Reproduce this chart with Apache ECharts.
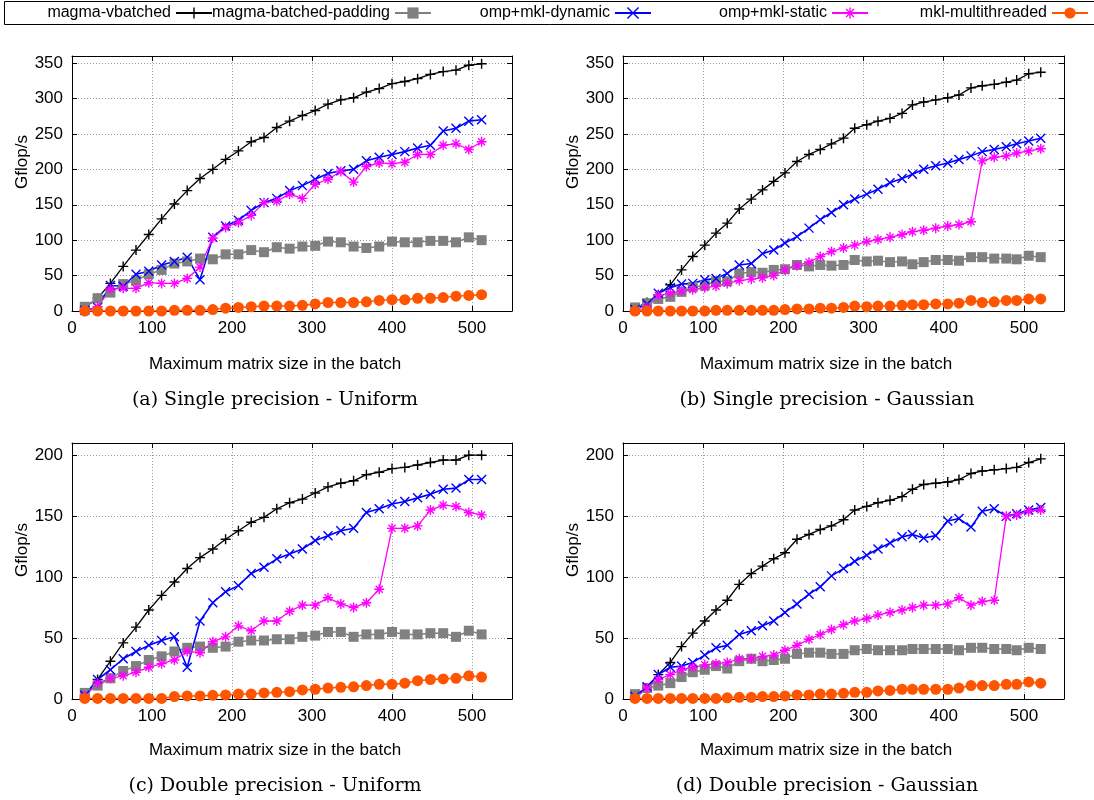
<!DOCTYPE html>
<html>
<head>
<meta charset="utf-8">
<title>Batched LU performance</title>
<script src="https://cdn.jsdelivr.net/npm/echarts@6.0.0/dist/echarts.min.js"></script>
<style>
  html, body { margin: 0; padding: 0; background: #fff; }
  #chart { width: 1094px; height: 800px; }
</style>
</head>
<body>
<div id="chart"></div>
<script>
// series names, in the order gnuplot drew them
const seriesNames = ['magma-vbatched', 'magma-batched-padding', 'omp+mkl-dynamic', 'omp+mkl-static', 'mkl-multithreaded'];

const captions = [
  '(a) Single precision - Uniform',
  '(b) Single precision - Gaussian',
  '(c) Double precision - Uniform',
  '(d) Double precision - Gaussian'
];

// maximum matrix sizes (x values)
const sizesUniform = [16, 32, 48, 64, 80, 96, 112, 128, 144, 160, 176, 192, 208, 224, 240, 256,
  272, 288, 304, 320, 336, 352, 368, 384, 400, 416, 432, 448, 464, 480, 496, 512];
const sizesGaussian = [15, 30, 44, 59, 73, 87, 102, 116, 130, 145, 160, 174, 188, 202, 217, 232, 246, 260,
  275, 289, 304, 318, 333, 348, 361, 375, 390, 405, 419, 434, 448, 463, 478, 491, 506, 521];

// (a) single precision, uniform
const vbatchedSU = [5, 18, 39, 63, 86, 108, 130, 151, 170, 187, 200, 214, 226, 239, 245, 259, 268, 276, 283, 292, 298, 301, 309, 314, 321, 324, 328, 334, 338, 340, 347, 349];
const paddingSU = [6, 18, 26, 38, 43, 52, 58, 67, 70, 74, 73, 80, 80, 86, 83, 90, 88, 91, 92, 98, 97, 91, 89, 91, 98, 97, 97, 99, 99, 97, 104, 100];
const dynamicSU = [1, 5, 36, 35, 52, 56, 65, 70, 76, 44, 104, 120, 128, 142, 153, 159, 170, 177, 186, 194, 198, 200, 212, 217, 221, 225, 230, 234, 254, 258, 268, 270];
const staticSU = [0, 6, 31, 32, 32, 40, 39, 39, 46, 62, 103, 118, 125, 135, 153, 155, 165, 159, 179, 186, 197, 182, 204, 209, 208, 210, 221, 221, 234, 236, 228, 239];
const mklSU = [0, 0, 0, 0, 0, 0, 0, 1, 1, 1, 2, 4, 5, 6, 7, 7, 7, 8, 10, 12, 12, 12, 13, 15, 16, 16, 18, 18, 19, 21, 22, 23];

// (b) single precision, gaussian
const vbatchedSG = [4, 12, 23, 37, 58, 77, 93, 110, 124, 144, 158, 171, 183, 195, 211, 221, 228, 236, 244, 258, 263, 268, 272, 279, 291, 295, 298, 301, 305, 315, 318, 320, 323, 326, 335, 337];
const paddingSG = [5, 11, 17, 20, 27, 34, 36, 42, 42, 53, 55, 54, 58, 59, 65, 63, 65, 64, 65, 72, 70, 71, 69, 70, 66, 69, 72, 72, 71, 76, 76, 74, 74, 73, 78, 76];
const dynamicSG = [2, 10, 25, 33, 38, 39, 44, 46, 53, 65, 67, 81, 86, 96, 105, 117, 129, 139, 150, 158, 165, 172, 181, 187, 193, 200, 205, 209, 214, 219, 225, 228, 232, 236, 240, 244];
const staticSG = [0, 5, 22, 25, 28, 30, 33, 35, 39, 43, 45, 47, 50, 58, 64, 69, 77, 84, 89, 93, 98, 101, 104, 108, 112, 114, 117, 120, 122, 126, 212, 217, 219, 223, 226, 229];
const mklSG = [0, 0, 0, 0, 0, 0, 0, 1, 1, 1, 1, 1, 1, 2, 3, 3, 4, 4, 5, 7, 6, 7, 7, 8, 9, 9, 10, 10, 11, 15, 12, 13, 15, 15, 17, 17];

// (c) double precision, uniform
const vbatchedDU = [3, 16, 31, 46, 59, 73, 85, 96, 107, 116, 123, 131, 138, 145, 149, 156, 161, 164, 169, 174, 177, 179, 184, 186, 189, 190, 192, 194, 196, 196, 200, 200];
const paddingDU = [5, 11, 17, 23, 27, 32, 35, 39, 42, 43, 42, 43, 47, 48, 48, 49, 49, 51, 52, 55, 55, 51, 53, 53, 55, 53, 53, 54, 54, 51, 56, 53];
const dynamicDU = [3, 16, 24, 33, 39, 44, 48, 51, 26, 64, 79, 88, 93, 103, 108, 115, 119, 123, 130, 134, 138, 140, 153, 156, 160, 162, 165, 168, 172, 173, 180, 180];
const staticDU = [2, 13, 17, 19, 22, 26, 29, 32, 39, 38, 47, 51, 60, 56, 64, 64, 72, 77, 77, 83, 78, 75, 79, 90, 140, 140, 142, 155, 159, 158, 153, 151];
const mklDU = [0.5, 0.5, 0.5, 0.5, 0.5, 0.5, 0.5, 2, 2.5, 2.5, 3, 3.3, 4, 4, 5, 5.5, 6, 7.4, 8, 9, 9.6, 10, 11, 12, 12, 13, 15, 16, 16.5, 17, 19, 18];

// (d) double precision, gaussian
const vbatchedDG = [3, 9, 20, 30, 43, 54, 64, 73, 81, 94, 103, 109, 115, 120, 131, 135, 139, 142, 147, 155, 158, 161, 163, 166, 172, 176, 177, 178, 180, 185, 187, 188, 189, 190, 194, 197];
const paddingDG = [4, 9, 11, 13, 18, 22, 24, 27, 25, 31, 33, 31, 32, 33, 37, 38, 38, 37, 37, 40, 41, 40, 40, 40, 41, 41, 41, 41, 40, 42, 42, 41, 41, 40, 42, 41];
const dynamicDG = [2, 10, 20, 26, 27, 30, 36, 42, 44, 53, 56, 60, 64, 71, 78, 86, 92, 101, 107, 113, 118, 123, 128, 133, 135, 132, 134, 146, 148, 141, 154, 156, 150, 152, 155, 157];
const staticDG = [0.5, 9, 16, 20, 24, 26, 28, 29, 30, 33, 33, 35, 36, 40, 44, 49, 53, 57, 61, 64, 66, 69, 71, 73, 75, 77, 77, 78, 83, 77, 80, 81, 150, 151, 154, 155];
const mklDG = [0.5, 0.5, 0.5, 0.5, 0.5, 0.5, 0.5, 0.5, 1, 1.4, 1.4, 2, 2, 2.5, 3.3, 3.3, 4, 4, 4.7, 5.5, 5.5, 6.6, 7, 8, 8, 8, 8, 8, 9, 11, 11, 11, 12, 12, 14, 13];

const SANS = "'Liberation Sans', Arial, Helvetica, sans-serif";
const SERIF = "'DejaVu Serif', 'Liberation Serif', serif";

// gnuplot point types
const plusPath = 'path://M5,0L5,10M0,5L10,5';
const crossPath = 'path://M0,0L10,10M10,0L0,10';
const starPath = 'path://M5,0L5,10M0,5L10,5M1.5,1.5L8.5,8.5M8.5,1.5L1.5,8.5';

const looks = [
  { color: '#000000', symbol: plusPath, size: 10, width: 1.3, stroked: true },
  { color: '#808080', symbol: 'rect', size: 10, width: 1.5, stroked: false },
  { color: '#0000ff', symbol: crossPath, size: 9, width: 1.6, stroked: true },
  { color: '#ff00ff', symbol: starPath, size: 10, width: 1.3, stroked: true },
  { color: '#ff5500', symbol: 'circle', size: 11, width: 1.5, stroked: false }
];

const panels = [
  { sizes: sizesUniform, ymax: 360, values: [vbatchedSU, paddingSU, dynamicSU, staticSU, mklSU], left: 72, top: 56, width: 440, height: 255 },
  { sizes: sizesGaussian, ymax: 360, values: [vbatchedSG, paddingSG, dynamicSG, staticSG, mklSG], left: 623, top: 56, width: 441, height: 255 },
  { sizes: sizesUniform, ymax: 210, values: [vbatchedDU, paddingDU, dynamicDU, staticDU, mklDU], left: 72, top: 443, width: 440, height: 256 },
  { sizes: sizesGaussian, ymax: 210, values: [vbatchedDG, paddingDG, dynamicDG, staticDG, mklDG], left: 623, top: 443, width: 441, height: 256 }
];

const chart = echarts.init(document.getElementById('chart'), null, { renderer: 'canvas' });

let grids = [], xAxes = [], yAxes = [], series = [];

function frameAxis(gridIndex, position, max, interval, isMain) {
  return {
    type: 'value',
    gridIndex: gridIndex,
    position: position,
    min: 0,
    max: max,
    interval: interval,
    axisLine: { show: true, onZero: false, lineStyle: { color: '#000', width: 1 } },
    axisTick: { show: true, inside: true, length: 5, lineStyle: { color: '#000' } },
    axisLabel: {
      show: isMain,
      showMaxLabel: false,
      margin: 9,
      color: '#000',
      fontSize: 17,
      fontFamily: SANS
    },
    splitLine: {
      show: isMain,
      showMinLine: false,
      showMaxLine: false,
      lineStyle: { color: '#9a9a9a', type: [1, 2], width: 1 }
    }
  };
}

panels.forEach(function (p, i) {
  grids.push({ left: p.left, top: p.top, width: p.width, height: p.height, containLabel: false });
  xAxes.push(frameAxis(i, 'bottom', 550, 100, true));
  xAxes.push(frameAxis(i, 'top', 550, 100, false));
  yAxes.push(frameAxis(i, 'left', p.ymax, 50, true));
  yAxes.push(frameAxis(i, 'right', p.ymax, 50, false));

  p.values.forEach(function (vals, k) {
    let look = looks[k];
    series.push({
      name: seriesNames[k],
      type: 'line',
      xAxisIndex: 2 * i,
      yAxisIndex: 2 * i,
      data: p.sizes.map((x, j) => [x, vals[j]]),
      symbol: look.symbol,
      symbolSize: look.size,
      showSymbol: true,
      lineStyle: { color: look.color, width: look.width },
      itemStyle: {
        color: look.color,
        borderColor: look.color,
        borderWidth: look.stroked ? 1.4 : 0
      },
      emphasis: { disabled: true },
      animation: false
    });
  });
});

// gnuplot key: text right aligned, sample to the right, fixed columns
const keyRight = [881, 662, 442, 225, 5];
const legends = seriesNames.map(function (name, k) {
  return {
    data: [name],
    right: keyRight[k],
    top: 5,
    align: 'right',
    padding: 0,
    itemWidth: 36,
    itemHeight: 14,
    itemStyle: { borderWidth: looks[k].stroked ? 1.4 : 0 },
    textStyle: { fontSize: 16, fontFamily: SANS, color: '#000' }
  };
});

const graphics = [
  {
    type: 'rect',
    shape: { x: 4.5, y: 1.5, width: 1100, height: 23 },
    style: { fill: 'none', stroke: '#000', lineWidth: 1 },
    silent: true
  }
];

const titlePos = [
  { yl: [22, 162], xt: [275, 364], cap: [275, 400] },
  { yl: [573, 162], xt: [826, 364], cap: [827, 400] },
  { yl: [22, 550], xt: [275, 750], cap: [275, 786] },
  { yl: [573, 550], xt: [826, 750], cap: [827, 786] }
];

titlePos.forEach(function (t, i) {
  graphics.push({
    type: 'text', x: t.yl[0], y: t.yl[1], rotation: Math.PI / 2,
    style: { text: 'Gflop/s', font: '17px ' + SANS, fill: '#000', align: 'center', verticalAlign: 'middle' }
  });
  graphics.push({
    type: 'text', x: t.xt[0], y: t.xt[1],
    style: { text: 'Maximum matrix size in the batch', font: '17px ' + SANS, fill: '#000', align: 'center', verticalAlign: 'middle' }
  });
  graphics.push({
    type: 'text', x: t.cap[0], y: t.cap[1],
    style: { text: captions[i], font: '19px ' + SERIF, fill: '#000', align: 'center', verticalAlign: 'middle' }
  });
});

chart.setOption({
  backgroundColor: '#fff',
  animation: false,
  legend: legends,
  grid: grids,
  xAxis: xAxes,
  yAxis: yAxes,
  series: series,
  graphic: graphics
});
</script>
</body>
</html>
